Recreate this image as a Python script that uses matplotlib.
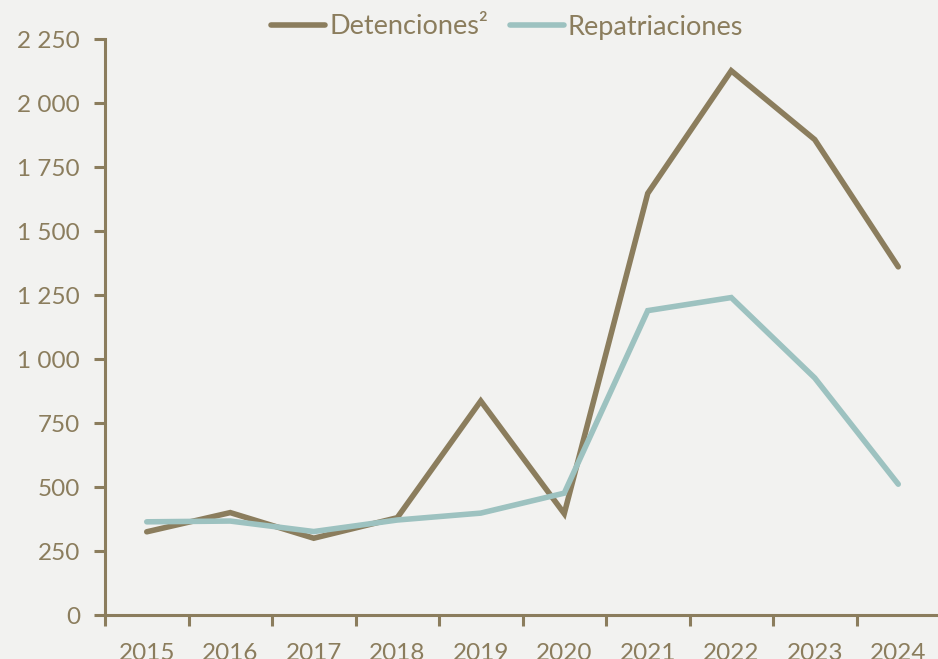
import matplotlib
matplotlib.use("Agg")
import matplotlib.pyplot as plt
from matplotlib.ticker import FuncFormatter, FixedLocator
import numpy as np

years = ["2015", "2016", "2017", "2018", "2019", "2020", "2021", "2022", "2023", "2024"]
detenciones = [325, 400, 300, 380, 836, 396, 1647, 2126, 1857, 1360]
repatriaciones = [364, 367, 326, 371, 398, 476, 1189, 1240, 926, 511]

brown = "#8b7d5d"
teal = "#9dc2c0"
bg = "#f2f2f0"

plt.rcParams["font.family"] = ["Lato", "DejaVu Sans"]

fig = plt.figure(figsize=(9.38, 6.59), dpi=100, facecolor=bg)
ax = fig.add_axes([105 / 938, 44 / 659, 835 / 938, 576 / 659])
ax.set_facecolor(bg)

x = np.arange(len(years))
ax.plot(x, detenciones, color=brown, lw=4, solid_capstyle="round",
        solid_joinstyle="miter", label="Detenciones²")
ax.plot(x, repatriaciones, color=teal, lw=4, solid_capstyle="round",
        solid_joinstyle="miter", label="Repatriaciones")

ax.set_xlim(-0.5, len(years) - 0.5)
ax.set_ylim(0, 2250)
ax.set_yticks(np.arange(0, 2251, 250))
ax.yaxis.set_major_formatter(FuncFormatter(lambda v, p: f"{int(v):,}".replace(",", " ")))

# category ticks sit on the boundaries, labels in the middle
ax.xaxis.set_major_locator(FixedLocator(np.arange(-0.5, len(years), 1.0)))
ax.xaxis.set_minor_locator(FixedLocator(x))
ax.set_xticklabels([])
ax.set_xticklabels(years, minor=True)
ax.tick_params(axis="x", which="major", length=8, width=2.2, color=brown, direction="out")
ax.tick_params(axis="x", which="minor", length=0, pad=20, labelsize=17.5, labelcolor=brown)
ax.tick_params(axis="y", length=8, width=2.2, color=brown, direction="out",
               pad=10, labelsize=17.5, labelcolor=brown)

for s in ["top", "right"]:
    ax.spines[s].set_visible(False)
for s in ["left", "bottom"]:
    ax.spines[s].set_color(brown)
    ax.spines[s].set_linewidth(2.2)

leg = fig.legend(loc="center", bbox_to_anchor=(507 / 938, 1 - 27 / 659), ncol=2,
                 frameon=False, fontsize=19.5, handlelength=2.0, handletextpad=0.15,
                 columnspacing=0.8, labelcolor=brown)

fig.savefig("out.png", dpi=100, facecolor=bg)
